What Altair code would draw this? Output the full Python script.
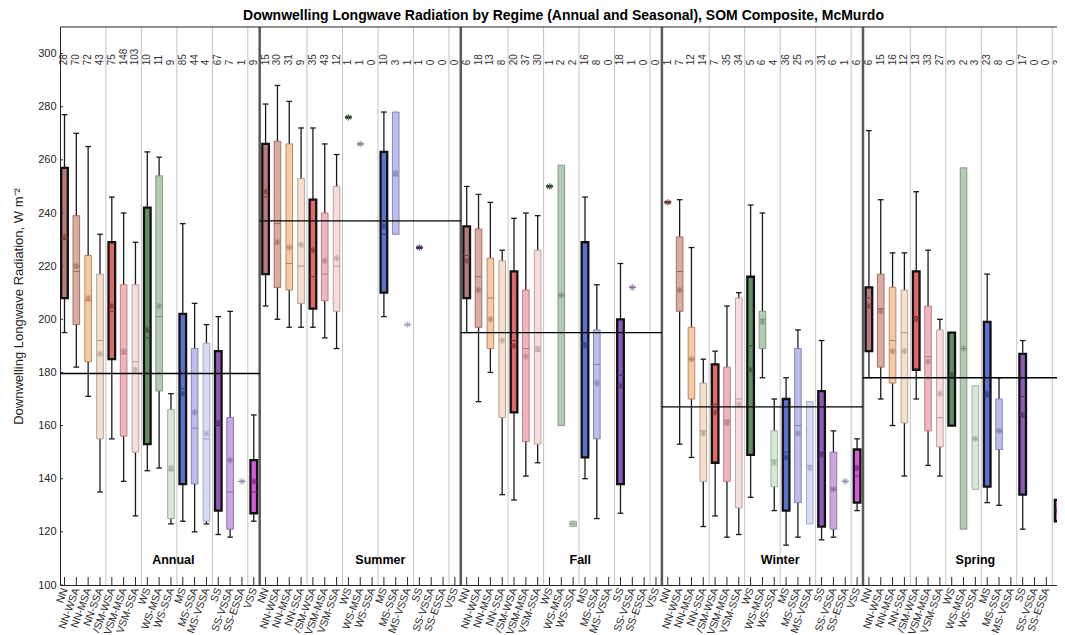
import altair as alt
import pandas as pd

REGIMES = ["NN", "NN-WSA", "NN-MSA", "NN-SSA", "VSM-WSA", "VSM-MSA", "VSM-SSA",
           "WS", "WS-MSA", "WS-SSA", "MS", "MS-SSA", "MS-VSSA",
           "SS", "SS-VSSA", "SS-ESSA", "VSS"]
SEASONS = ["Annual", "Summer", "Fall", "Winter", "Spring"]
THICK_REGIMES = ["NN", "VSM-WSA", "WS", "MS", "SS", "VSS"]

FILL_COLORS = ["#b77b7b", "#dcab9f", "#f6caa2", "#f4e0cc", "#e06868", "#f2b5bd", "#f7dcdc",
               "#628f62", "#b3cab3", "#d8e8d8", "#5c72cf", "#bcbde9", "#d7dcf6",
               "#8e5bb8", "#c9a9de", "#e2d3f0", "#d45cd6"]
DARK_COLORS = ["#7a3a3a", "#9a6a5f", "#b08060", "#b09a88", "#8a2a2a", "#b07a82", "#b89a9a",
               "#2f4f2f", "#7a907a", "#98a898", "#2a3a8a", "#7c7db0", "#9aa0c0",
               "#4a2a6a", "#8a6aa0", "#9a8aaa", "#7a1a7a"]

# ---- Annual ----
ANNUAL_N = [28, 70, 72, 43, 75, 148, 103, 10, 11, 9, 85, 44, 4, 67, 7, 1, 9]
ANNUAL_WHI = [277, 270, 265, 232, 246, 240, 229, 263, 261, 172, 236, 206, 198, 201, 203, None, 164]
ANNUAL_Q3 = [257, 239, 224, 217, 229, 213, 213, 242, 254, 166, 202, 189, 191, 188, 163, 139, 147]
ANNUAL_MED = [230, 218, 207, 192, 203, 187, 184, 193, 201, 143, 174, 159, 155, 160, 135, 139, 135]
ANNUAL_Q1 = [208, 198, 184, 155, 185, 156, 150, 153, 173, 125, 138, 138, 124, 128, 121, 139, 127]
ANNUAL_WLO = [195, 182, 171, 135, 155, 139, 126, 143, 144, 123, 124, 120, 123, 119, 118, None, 124]
ANNUAL_MEAN = [231, 220, 208, 187, 205, 188, 181, 196, 205, 144, 172, 165, 157, 161, 147, 139, 139]

# ---- Summer ----
SUMMER_N = [15, 30, 31, 9, 35, 43, 12, 1, 1, 0, 10, 3, 1, 1, 0, 0, 0]
SUMMER_WHI = [281, 288, 282, 272, 272, 266, 262, None, None, None, 278, None, None, None, None, None, None]
SUMMER_Q3 = [266, 267, 266, 253, 245, 240, 250, 276, 266, None, 263, 278, 198, 227, None, None, None]
SUMMER_MED = [246, 236, 221, 220, 216, 217, 220, 276, 266, None, 232, 254, 198, 227, None, None, None]
SUMMER_Q1 = [217, 212, 211, 206, 204, 207, 203, 276, 266, None, 210, 232, 198, 227, None, None, None]
SUMMER_WLO = [205, 200, 197, 197, 197, 193, 189, None, None, None, 201, None, None, None, None, None, None]
SUMMER_MEAN = [248, 229, 227, 228, 226, 222, 223, 276, 266, None, 235, 255, 198, 227, None, None, None]

# ---- Fall ----
FALL_N = [6, 18, 13, 8, 20, 37, 30, 1, 2, 2, 16, 8, 0, 18, 1, 0, 0]
FALL_WHI = [250, 247, 244, 226, 238, 240, 239, None, None, None, 246, 213, None, 221, None, None, None]
FALL_Q3 = [235, 234, 223, 222, 218, 211, 226, 250, 258, 124, 229, 196, None, 200, 212, None, None]
FALL_MED = [224, 216, 208, 195, 192, 189, 188, 250, 209, 123, 191, 183, None, 179, 212, None, None]
FALL_Q1 = [208, 197, 189, 163, 165, 154, 153, 250, 160, 122, 148, 155, None, 138, 212, None, None]
FALL_WLO = [195, 169, 180, 134, 132, 141, 146, None, None, None, 140, 125, None, 127, None, None, None]
FALL_MEAN = [222, 211, 200, 192, 190, 186, 189, 250, 209, 123, 190, 176, None, 175, 212, None, None]

# ---- Winter ----
WINTER_N = [1, 7, 12, 14, 7, 35, 34, 5, 6, 4, 36, 25, 3, 31, 6, 1, 6]
WINTER_WHI = [None, 245, 227, 185, 188, 205, 210, 243, 240, 170, 178, 196, None, 192, 158, None, 155]
WINTER_Q3 = [244, 231, 197, 176, 183, 182, 208, 216, 203, 158, 170, 189, 169, 173, 150, 139, 151]
WINTER_MED = [244, 218, 185, 158, 168, 162, 170, 190, 200, 147, 150, 160, 145, 150, 136, 139, 141]
WINTER_Q1 = [244, 203, 170, 139, 146, 139, 129, 149, 189, 137, 128, 131, 123, 122, 121, 139, 131]
WINTER_WLO = [None, 153, 148, 122, 126, 118, 119, 133, 178, 128, 115, 118, None, 117, 118, None, 128]
WINTER_MEAN = [244, 211, 185, 157, 165, 161, 168, 181, 199, 146, 148, 157, 144, 149, 136, 139, 144]

# ---- Spring ----
SPRING_N = [6, 15, 16, 12, 13, 33, 27, 3, 2, 3, 23, 8, 0, 17, 0, 0, 3]
SPRING_WHI = [271, 245, 225, 225, 248, 226, 200, None, None, None, 217, 178, None, 192, None, None, None]
SPRING_Q3 = [212, 217, 212, 211, 218, 205, 196, 195, 257, 175, 199, 170, None, 187, None, None, 132]
SPRING_MED = [208, 204, 192, 195, 201, 186, 163, 178, 189, 155, 171, 158, None, 171, None, None, 128]
SPRING_Q1 = [188, 182, 176, 161, 181, 158, 152, 160, 121, 136, 137, 151, None, 134, None, None, 124]
SPRING_WLO = [178, 170, 160, 141, 170, 145, 141, None, None, None, 131, 130, None, 121, None, None, None]
SPRING_MEAN = [205, 203, 188, 188, 200, 184, 172, 179, 189, 155, 172, 158, None, 164, None, None, 128]

SEASON_MEANS = [179.6, 237, 195, 167, 178]
SEASON_LABEL_POS = [10.2, 27.7, 44.6, 61.5, 78.0]
Y_TICKS = list(range(100, 301, 20))

STATS = {
    "Annual": (ANNUAL_N, ANNUAL_WLO, ANNUAL_Q1, ANNUAL_MED, ANNUAL_Q3, ANNUAL_WHI, ANNUAL_MEAN),
    "Summer": (SUMMER_N, SUMMER_WLO, SUMMER_Q1, SUMMER_MED, SUMMER_Q3, SUMMER_WHI, SUMMER_MEAN),
    "Fall": (FALL_N, FALL_WLO, FALL_Q1, FALL_MED, FALL_Q3, FALL_WHI, FALL_MEAN),
    "Winter": (WINTER_N, WINTER_WLO, WINTER_Q1, WINTER_MED, WINTER_Q3, WINTER_WHI, WINTER_MEAN),
    "Spring": (SPRING_N, SPRING_WLO, SPRING_Q1, SPRING_MED, SPRING_Q3, SPRING_WHI, SPRING_MEAN),
}

rows = []
for si, season in enumerate(SEASONS):
    n, wlo, q1, med, q3, whi, mean = STATS[season]
    for k, reg in enumerate(REGIMES):
        rows.append(dict(slot=si * 17 + k + 1, season=season, regime=reg, n=str(n[k]),
                         wlo=wlo[k], q1=q1[k], med=med[k], q3=q3[k], whi=whi[k],
                         mean=mean[k], thick=reg in THICK_REGIMES))
df = pd.DataFrame(rows)
for c in ["wlo", "q1", "med", "q3", "whi", "mean"]:
    df[c] = pd.to_numeric(df[c])
df["xl"] = df["slot"] - 0.28
df["xr"] = df["slot"] + 0.28
df["cl"] = df["slot"] - 0.24
df["cr"] = df["slot"] + 0.24
df["cy"] = 295.6

XDOM = [0.62, 84.9]
label_expr = "[" + ",".join("'%s'" % r for r in REGIMES) + "][(datum.value - 1) % 17]"
XSCALE = alt.Scale(domain=XDOM, nice=False, zero=False)
YSCALE = alt.Scale(domain=[100, 310], nice=False, zero=False)
XAXIS = alt.Axis(values=list(range(1, 86)), labelExpr=label_expr, labelAngle=-70,
                 labelAlign="right", labelBaseline="middle", labelFontSize=10.5,
                 labelFont="Liberation Sans", labelColor="#262626", ticks=False,
                 domainColor="#262626", labelPadding=3, grid=False, labelOverlap=False,
                 labelFlush=False, title=None)
YAXIS = alt.Axis(values=Y_TICKS, title="Downwelling Longwave Radiation, W m\u207b\u00b2",
                 titleFontSize=13, titleFontWeight="normal", titleFont="Liberation Sans",
                 titleColor="#262626", labelFont="Liberation Sans", labelFontSize=11,
                 labelColor="#262626", ticks=False, domainColor="#262626", labelPadding=4,
                 grid=False, titleX=-42, titleY=279, titleAngle=270, titleAlign="center",
                 titleBaseline="middle")


def X(f):
    return alt.X(f, type="quantitative", scale=XSCALE, axis=XAXIS)


def Y(f):
    return alt.Y(f, type="quantitative", scale=YSCALE, axis=YAXIS)


FILL = alt.Fill("regime:N", scale=alt.Scale(domain=REGIMES, range=FILL_COLORS), legend=None)
STROKE = alt.Stroke("regime:N", scale=alt.Scale(domain=REGIMES, range=DARK_COLORS), legend=None)

sub_lines = pd.DataFrame({"pos": [si * 17 + b for si in range(5) for b in [4.5, 7.5, 10.5, 13.5, 16.5]]})
sea_lines = pd.DataFrame({"pos": [si * 17 + 17.5 for si in range(4)]})
mean_lines = pd.DataFrame({"x0": [si * 17 + 0.5 for si in range(5)],
                           "x1": [si * 17 + 17.5 for si in range(5)],
                           "m": SEASON_MEANS})
season_lbl = pd.DataFrame({"pos": SEASON_LABEL_POS, "name": SEASONS, "y": [109.4] * 5})

whisk = df[df["whi"].notna()]
caps = pd.concat([whisk[["cl", "cr"]].assign(v=whisk["whi"]),
                  whisk[["cl", "cr"]].assign(v=whisk["wlo"])])
boxes = df[df["q1"].notna()]
thin_boxes = boxes[~boxes["thick"]]
thick_boxes = boxes[boxes["thick"]]
means = df[df["mean"].notna()]

ytick_df = pd.DataFrame({"v": Y_TICKS, "a": [XDOM[0]] * len(Y_TICKS), "b": [XDOM[0] + 0.25] * len(Y_TICKS)})
xtick_df = pd.DataFrame({"s": list(range(1, 86)), "a": [100] * 85, "b": [103] * 85})
top_df = pd.DataFrame({"a": [XDOM[0]], "b": [XDOM[1]], "v": [310]})

ASTER = "M-1,0L1,0M0,-1L0,1M-0.7,-0.7L0.7,0.7M-0.7,0.7L0.7,-0.7"

layers = [
    alt.Chart(sub_lines).mark_rule(color="#c4c4c4", strokeWidth=1).encode(x=X("pos")),
    alt.Chart(sea_lines).mark_rule(color="#5a5a5a", strokeWidth=2.5).encode(x=X("pos")),
    alt.Chart(whisk).mark_rule(color="#1a1a1a", strokeWidth=1.3).encode(x=X("slot"), y=Y("wlo"), y2="whi"),
    alt.Chart(caps).mark_rule(color="#1a1a1a", strokeWidth=1.3).encode(x=X("cl"), x2="cr", y=Y("v")),
    alt.Chart(thin_boxes).mark_rect(strokeWidth=0.9).encode(x=X("xl"), x2="xr", y=Y("q1"), y2="q3",
                                                             fill=FILL, stroke=STROKE),
    alt.Chart(thick_boxes).mark_rect(strokeWidth=2.3, stroke="#111111").encode(
        x=X("xl"), x2="xr", y=Y("q1"), y2="q3", fill=FILL),
    alt.Chart(boxes).mark_rule(strokeWidth=1).encode(x=X("xl"), x2="xr", y=Y("med"), stroke=STROKE),
    alt.Chart(means).mark_point(shape=ASTER, filled=False, size=45, strokeWidth=1.1).encode(
        x=X("slot"), y=Y("mean"), stroke=STROKE),
    alt.Chart(mean_lines).mark_rule(color="black", strokeWidth=1.3, clip=True).encode(
        x=X("x0"), x2="x1", y=Y("m")),
    alt.Chart(df).mark_text(angle=270, align="left", baseline="middle", fontSize=10,
                            font="Liberation Sans", color="#333333").encode(
        x=X("slot"), y=Y("cy"), text="n:N"),
    alt.Chart(season_lbl).mark_text(fontWeight="bold", fontSize=12.5, font="Liberation Sans",
                                    color="black", baseline="middle").encode(
        x=X("pos"), y=Y("y"), text="name:N"),
    alt.Chart(ytick_df).mark_rule(color="#262626", strokeWidth=1).encode(x=X("a"), x2="b", y=Y("v")),
    alt.Chart(xtick_df).mark_rule(color="#262626", strokeWidth=1).encode(x=X("s"), y=Y("a"), y2="b"),
    alt.Chart(top_df).mark_rule(color="#262626", strokeWidth=1).encode(x=X("a"), x2="b", y=Y("v")),
]

chart = alt.layer(*layers).properties(
    width=997, height=558,
    title=alt.TitleParams(
        text="Downwelling Longwave Radiation by Regime (Annual and Seasonal), SOM Composite, McMurdo",
        fontSize=14, fontWeight="bold", font="Liberation Sans", anchor="middle", offset=3,
        color="black", dx=5),
    autosize=alt.AutoSizeParams(type="none"),
    padding={"left": 52, "top": 19, "right": 0, "bottom": 48},
).configure_view(stroke=None)

chart.save("out.html", embed_options={"renderer": "svg", "actions": False})
